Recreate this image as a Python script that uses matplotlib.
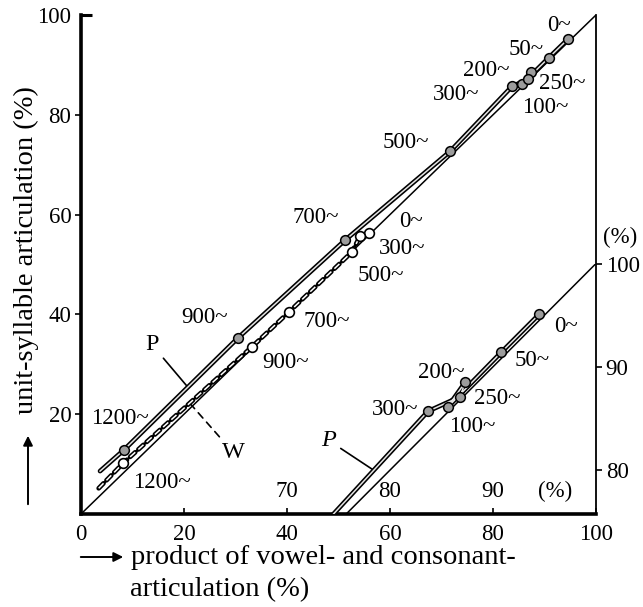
import matplotlib
matplotlib.use("Agg")
import matplotlib.pyplot as plt
from matplotlib.patches import FancyArrowPatch

plt.rcParams["font.family"] = ["Liberation Serif", "DejaVu Serif"]
plt.rcParams["lines.scale_dashes"] = False

# P: high-pass cut-off frequency and measured articulation
p_labels = ["0~", "50~", "100~", "200~", "250~", "300~", "500~", "700~", "900~", "1200~"]
p_product = [94.5, 90.8, 85.6, 87.3, 86.8, 83.7, 71.7, 51.3, 30.5, 8.3]
p_syllable = [95.1, 91.4, 86.1, 88.5, 87.1, 85.7, 72.7, 54.9, 35.3, 12.8]
p_end_product, p_end_syllable = 3.7, 8.6

# W: second set of measurements
w_labels = ["0~", "300~", "500~", "700~", "900~", "1200~"]
w_product = [55.9, 54.2, 52.6, 40.4, 33.2, 8.2]
w_syllable = [56.3, 55.7, 52.5, 40.5, 33.5, 10.2]
w_end_product, w_end_syllable = 3.1, 4.8

x_ticks = [0, 20, 40, 60, 80, 100]
y_ticks = [20, 40, 60, 80]
inset_x_ticks = [70, 80, 90]
inset_y_ticks = [80, 90, 100]
inset_count = 6  # the first six P points are magnified in the inset

FS = 16.5
W_PX, H_PX = 643, 607
fig = plt.figure(figsize=(W_PX / 100, H_PX / 100), dpi=100)
ax = fig.add_axes([81 / W_PX, 1 - 514 / H_PX, 515 / W_PX, 499 / H_PX])
ax.set_xlim(0, 100)
ax.set_ylim(0, 100)
ax.patch.set_alpha(0)

for side, lw in (("left", 2.6), ("bottom", 2.6), ("right", 1.3)):
    ax.spines[side].set_linewidth(lw)
ax.spines["top"].set_visible(False)

ax.set_xticks(x_ticks, [str(t) for t in x_ticks])
ax.set_yticks(y_ticks, [str(t) for t in y_ticks])
ax.set_yticks([100], ["100"], minor=True)
ax.tick_params(axis="x", direction="in", length=4, width=1.2, pad=7, labelsize=FS)
ax.tick_params(axis="y", which="major", direction="out", length=4, width=1.2, pad=3, labelsize=FS)
ax.tick_params(axis="y", which="minor", direction="in", length=8, width=2.2, pad=7, labelsize=FS)


def double_line(a, xs, ys, dashed=False, z=3):
    style = (0, (5, 3)) if dashed else "-"
    a.plot(xs, ys, color="black", lw=3.4, ls=style, dash_capstyle="round",
           solid_capstyle="round", zorder=z)
    a.plot(xs, ys, color="#e4e4e4" if not dashed else "white", lw=1.1, ls=style,
           zorder=z + 0.1)


P_MARK = dict(ls="none", marker="o", ms=7, mfc="#9c9c9c", mec="black", mew=1.1, zorder=5)
W_MARK = dict(ls="none", marker="o", ms=7, mfc="white", mec="black", mew=1.2, zorder=5)

# reference diagonal (equal articulation)
ax.plot([0, 100], [0, 100], color="black", lw=1.1, zorder=2)

# P curve
double_line(ax, p_product + [p_end_product], p_syllable + [p_end_syllable])
ax.plot(p_product, p_syllable, **P_MARK)

# W curve
double_line(ax, w_product + [w_end_product], w_syllable + [w_end_syllable], dashed=True)
ax.plot(w_product, w_syllable, **W_MARK)

p_offsets = [(-6, 10), (-16, 6), (17, -17), (-32, 1), (25, -3), (-40, -6),
             (-32, 6), (-21, 16), (-24, 15), (-3, 23)]
w_offsets = [(30, 8), (30, -9), (21, -17), (27, -7), (24, -11), (28, -14)]

for lab, x, y, off in zip(p_labels, p_product, p_syllable, p_offsets):
    ax.annotate(lab, (x, y), xytext=off, textcoords="offset points",
                ha="center", va="center", fontsize=FS)
for lab, x, y, off in zip(w_labels, w_product, w_syllable, w_offsets):
    ax.annotate(lab, (x, y), xytext=off, textcoords="offset points",
                ha="center", va="center", fontsize=FS)

# curve name pointers
ax.annotate("P", xy=(20.6, 25.6), xytext=(13.8, 33.9), ha="center", va="center",
            fontsize=FS + 1,
            arrowprops=dict(arrowstyle="-", lw=1.2, color="black", shrinkA=2, shrinkB=0))
ax.annotate("W", xy=(21.3, 22.0), xytext=(29.5, 12.4), ha="center", va="center",
            fontsize=FS + 1,
            arrowprops=dict(arrowstyle="-", lw=1.2, color="black", ls=(0, (5, 4)),
                            shrinkA=2, shrinkB=0))

# magnified view of the upper end of the P curve
axi = ax.inset_axes([40, 0, 60, 50.2], transform=ax.transData)
axi.set_xlim(70, 100)
axi.set_ylim(75.75, 100)
axi.patch.set_alpha(0)
for s in axi.spines.values():
    s.set_visible(False)
axi.set_xticks(inset_x_ticks, [str(t) for t in inset_x_ticks])
axi.tick_params(axis="x", direction="in", length=0, pad=-24, labelsize=FS)
axi.yaxis.tick_right()
axi.set_yticks(inset_y_ticks, [str(t) for t in inset_y_ticks])
axi.tick_params(axis="y", direction="out", length=4, width=1.2, pad=3, labelsize=FS)

axi.plot([0, 100], [0, 100], color="black", lw=1.1, zorder=2)
double_line(axi, p_product, p_syllable)
axi.plot(p_product[:inset_count], p_syllable[:inset_count], **P_MARK)

i_offsets = [(19, -9), (22, -6), (18, -14), (-17, 7), (27, -1), (-24, 1)]
for lab, x, y, off in zip(p_labels[:inset_count], p_product, p_syllable, i_offsets):
    axi.annotate(lab, (x, y), xytext=off, textcoords="offset points",
                 ha="center", va="center", fontsize=FS)
axi.annotate("P", xy=(78.4, 80.0), xytext=(74.0, 82.9), ha="center", va="center",
             fontsize=FS + 1, style="italic",
             arrowprops=dict(arrowstyle="-", lw=1.2, color="black", shrinkA=2, shrinkB=0))
axi.text(96.0, 77.9, "(%)", ha="center", va="center", fontsize=FS)
axi.text(102.3, 102.5, "(%)", ha="center", va="center", fontsize=FS)


# axis titles and their arrows
def fx(px):
    return px / W_PX


def fy(py):
    return 1 - py / H_PX


LFS = 20.5
fig.text(fx(131), fy(557), "product of vowel- and consonant-",
         ha="left", va="center", fontsize=LFS)
fig.text(fx(130), fy(590), "articulation (%)", ha="left", va="center", fontsize=LFS)
fig.text(fx(26), fy(250), "unit-syllable articulation (%)", rotation=90,
         ha="center", va="center", fontsize=LFS)

arrow = dict(arrowstyle="-|>", color="black", lw=1.4, mutation_scale=14)
fig.add_artist(FancyArrowPatch((fx(28), fy(507)), (fx(28), fy(433)),
                               transform=fig.transFigure, **arrow))
fig.add_artist(FancyArrowPatch((fx(78), fy(557)), (fx(126), fy(557)),
                               transform=fig.transFigure, **arrow))

fig.savefig("out.png", dpi=100)
